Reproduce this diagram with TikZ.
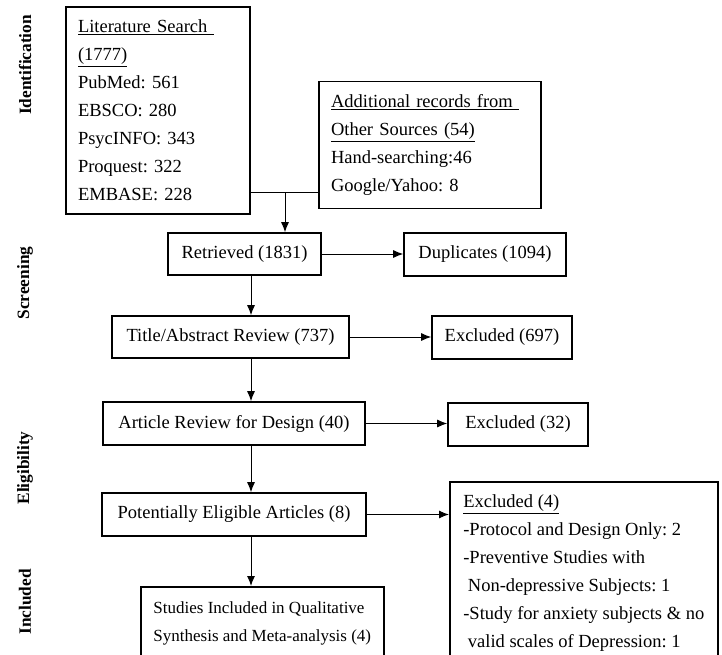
\documentclass[tikz,border=0pt]{standalone}
\usepackage{fontspec}
\setmainfont{Liberation Serif}
\usepackage{tikz}
\usetikzlibrary{positioning}
\usetikzlibrary{arrows.meta}
\pgfdeclarelayer{nodelayer}
\pgfdeclarelayer{edgelayer}
\pgfsetlayers{nodelayer,edgelayer,main}
\tikzset{
    stage/.style = {draw, line width=1.6pt, inner sep=0pt, font=\fontsize{18.5}{28}\selectfont\frenchspacing},
    listbox/.style = {stage, align=left, inner xsep=12pt, inner ysep=13pt},
    phase/.style = {rotate=90, font=\fontsize{17.3}{20}\selectfont\bfseries},
    flow/.style = {line width=1pt, -{Latex[length=10pt,width=8pt]}},
    joint/.style = {line width=1pt}
}

\begin{document}
\begin{tikzpicture}[x=1pt, y=-1pt]
    \useasboundingbox (0,0) rectangle (722,655);
    \begin{pgfonlayer}{nodelayer}
        \node [phase] (ident) at (25,65) {Identification};
        \node [phase] (screening) at (25,283) {Screening};
        \node [phase] (eligibility) at (25,468) {Eligibility};
        \node [phase] (inclusion) at (25,602) {Included};
        \node [listbox, minimum height=205pt, text width=160pt] (lit) at (158,110.5) {\underline{Literature Search~}\\ \underline{(1777)}\\ PubMed: 561\\ EBSCO: 280\\ PsycINFO: 343\\ Proquest: 322\\ EMBASE: 228};
        \node [listbox, minimum height=124pt, text width=198pt] (other) at (430,145) {\underline{Additional records from~}\\ \underline{Other Sources (54)}\\ Hand-searching:46\\ Google/Yahoo: 8};
        \node [stage, minimum width=153pt, minimum height=42pt] (retrieved) at (244.5,254) {Retrieved (1831)};
        \node [stage, minimum width=162pt, minimum height=43pt] (dups) at (485,254.5) {Duplicates (1094)};
        \node [stage, minimum width=237pt, minimum height=42pt] (screen) at (230.5,337) {Title/Abstract Review (737)};
        \node [stage, minimum width=140pt, minimum height=43pt] (excla) at (502,337.5) {Excluded (697)};
        \node [stage, minimum width=262pt, minimum height=43pt] (design) at (234,423.5) {Article Review for Design (40)};
        \node [stage, minimum width=140pt, minimum height=43pt] (exclb) at (518,424.5) {Excluded (32)};
        \node [stage, minimum width=264pt, minimum height=43pt] (eligible) at (234,514.5) {Potentially Eligible Articles (8)};
        \node [stage, align=left, anchor=north west, minimum width=268pt, inner ysep=13pt] (exclc) at (449,481) {\underline{Excluded (4)}\\ -Protocol and Design Only: 2\\ -Preventive Studies with\\ ~Non-depressive Subjects: 1\\ -Study for anxiety subjects \& no\\ ~valid scales of Depression: 1};
        \node [stage, align=left, anchor=north west, minimum width=243pt, inner ysep=15pt, font=\fontsize{17}{28}\selectfont\frenchspacing] (included) at (140,586) {Studies Included in Qualitative\\ Synthesis and Meta-analysis (4)};
        \coordinate (merge) at (285,192);
        \coordinate (spine) at (251,0);
    \end{pgfonlayer}
    \begin{pgfonlayer}{edgelayer}
        \draw [joint] (lit.east |- merge) to (other.west |- merge);
        \draw [flow] (merge) to (merge |- retrieved.north);
        \draw [flow] (retrieved.south -| spine) to (screen.north -| spine);
        \draw [flow] (screen.south -| spine) to (design.north -| spine);
        \draw [flow] (design.south -| spine) to (eligible.north -| spine);
        \draw [flow] (eligible.south -| spine) to (included.north -| spine);
        \draw [flow] (retrieved.east) to (retrieved.east -| dups.west);
        \draw [flow] (screen.east) to (screen.east -| excla.west);
        \draw [flow] (design.east) to (design.east -| exclb.west);
        \draw [flow] (eligible.east) to (eligible.east -| exclc.west);
    \end{pgfonlayer}
\end{tikzpicture}
\end{document}
